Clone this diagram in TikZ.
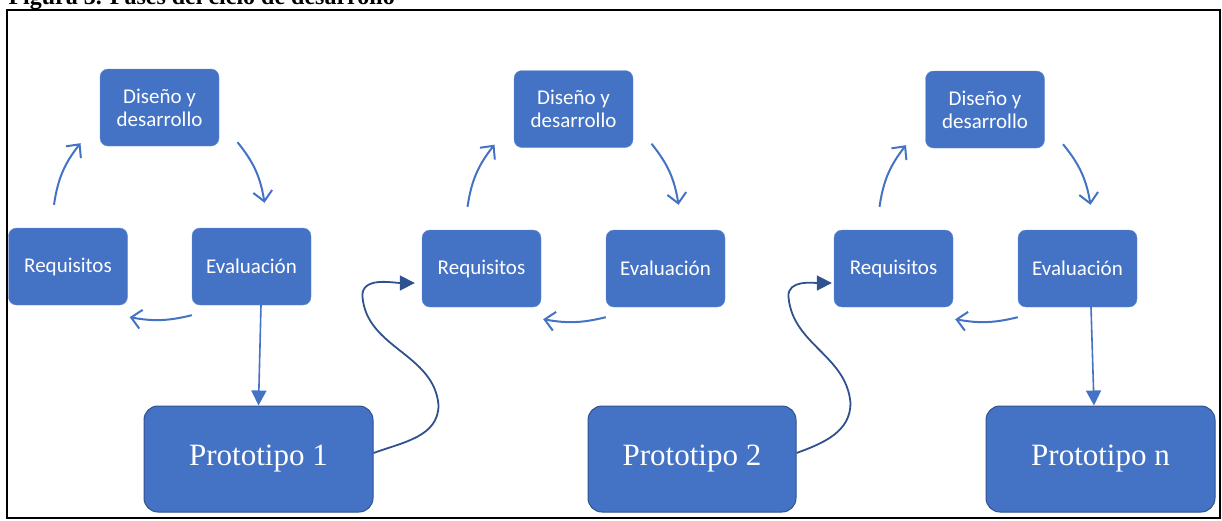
\documentclass[tikz,border=0pt]{standalone}
\usepackage{fontspec}
\setmainfont{Liberation Serif}
\newfontfamily\calibrifont{Carlito}
\definecolor{officeblue}{RGB}{68, 114, 196}
\definecolor{darkblue}{RGB}{47, 82, 143}
\usetikzlibrary{arrows.meta, positioning}

\begin{document}
\begin{tikzpicture}[
  x=1pt, y=1pt,
  phase/.style={fill=officeblue, draw=officeblue!80!white, rounded corners=8pt, minimum width=119pt, minimum height=77pt, inner sep=2pt, align=center, text=white, font=\calibrifont\fontsize{21}{23}\selectfont},
  proto/.style={fill=officeblue, draw=darkblue, line width=1pt, rounded corners=14pt, minimum height=106pt, text=white, font=\fontsize{31}{36}\selectfont},
  cyc/.style={-{Straight Barb[length=10pt,width=19pt,line width=2pt]}, line width=2pt, draw=officeblue},
  down/.style={-{Triangle[length=15pt,width=15pt]}, line width=1.6pt, draw=officeblue},
  curvy/.style={-{Triangle[length=15pt,width=15pt]}, line width=1.8pt, draw=darkblue}
]
  \useasboundingbox (0,0) rectangle (1222,-520);
  \node[anchor=base west, font=\bfseries\fontsize{24}{28}\selectfont] (title) at (5,-4) {Figura 3. Fases del ciclo de desarrollo};
  \draw[line width=2pt] (7,-10) rectangle (1220,-518);

  % Ciclo 1
  \node[phase] (dis1) at (159.5,-107.5) {Diseño y\\desarrollo};
  \node[phase] (req1) at (68,-266.5) {Requisitos};
  \node[phase] (eva1) at (251.5,-266.5) {Evaluación};
  \node[proto, minimum width=229pt] (p1) at (258.5,-459) {Prototipo 1};

  \draw[cyc] ([xshift=-14pt,yshift=23pt]req1.north) to[bend left=15] ([xshift=-79pt,yshift=3pt]dis1.south);
  \draw[cyc] ([xshift=78pt,yshift=4pt]dis1.south) to[bend left=15] ([xshift=13pt,yshift=25pt]eva1.north);
  \draw[cyc] ([yshift=-10pt]eva1.south west) to[bend left=12] ([xshift=2pt,yshift=-12pt]req1.south east);
  \draw[down] ([xshift=9.5pt]eva1.south) -- (p1.north);

  % Ciclo 2
  \node[phase] (dis2) at (573.5,-109) {Diseño y\\desarrollo};
  \node[phase] (req2) at (481.5,-268.5) {Requisitos};
  \node[phase] (eva2) at (665.5,-268.5) {Evaluación};
  \node[proto, minimum width=208pt] (p2) at (692,-459) {Prototipo 2};

  \draw[cyc] ([xshift=-14pt,yshift=23pt]req2.north) to[bend left=15] ([xshift=-79pt,yshift=3pt]dis2.south);
  \draw[cyc] ([xshift=78pt,yshift=4pt]dis2.south) to[bend left=15] ([xshift=13pt,yshift=25pt]eva2.north);
  \draw[cyc] ([yshift=-10pt]eva2.south west) to[bend left=12] ([xshift=2pt,yshift=-12pt]req2.south east);

  % Ciclo 3
  \node[phase] (dis3) at (985,-109.5) {Diseño y\\desarrollo};
  \node[phase] (req3) at (893.5,-268.5) {Requisitos};
  \node[phase] (eva3) at (1077.5,-268.5) {Evaluación};
  \node[proto, minimum width=229pt] (pn) at (1100.5,-459) {Prototipo n};

  \draw[cyc] ([xshift=-14pt,yshift=23pt]req3.north) to[bend left=15] ([xshift=-79pt,yshift=3pt]dis3.south);
  \draw[cyc] ([xshift=78pt,yshift=4pt]dis3.south) to[bend left=15] ([xshift=13pt,yshift=25pt]eva3.north);
  \draw[cyc] ([yshift=-10pt]eva3.south west) to[bend left=12] ([xshift=2pt,yshift=-12pt]req3.south east);
  \draw[down] ([xshift=13.5pt]eva3.south) -- ([xshift=-6.5pt]pn.north);

  % Prototipo -> siguiente ciclo
  \draw[curvy] ([yshift=6pt]p1.east) to[out=20,in=-90] ++(65,48) to[out=95,in=-85] ++(-76,108) to[out=95,in=180] ([xshift=-7pt,yshift=-14.5pt]req2.west);
  \draw[curvy] ([yshift=6pt]p2.east) to[out=20,in=-90] ++(54,50) to[out=95,in=-85] ++(-62,106) to[out=95,in=180] ([xshift=-2pt,yshift=-14.5pt]req3.west);
\end{tikzpicture}
\end{document}
